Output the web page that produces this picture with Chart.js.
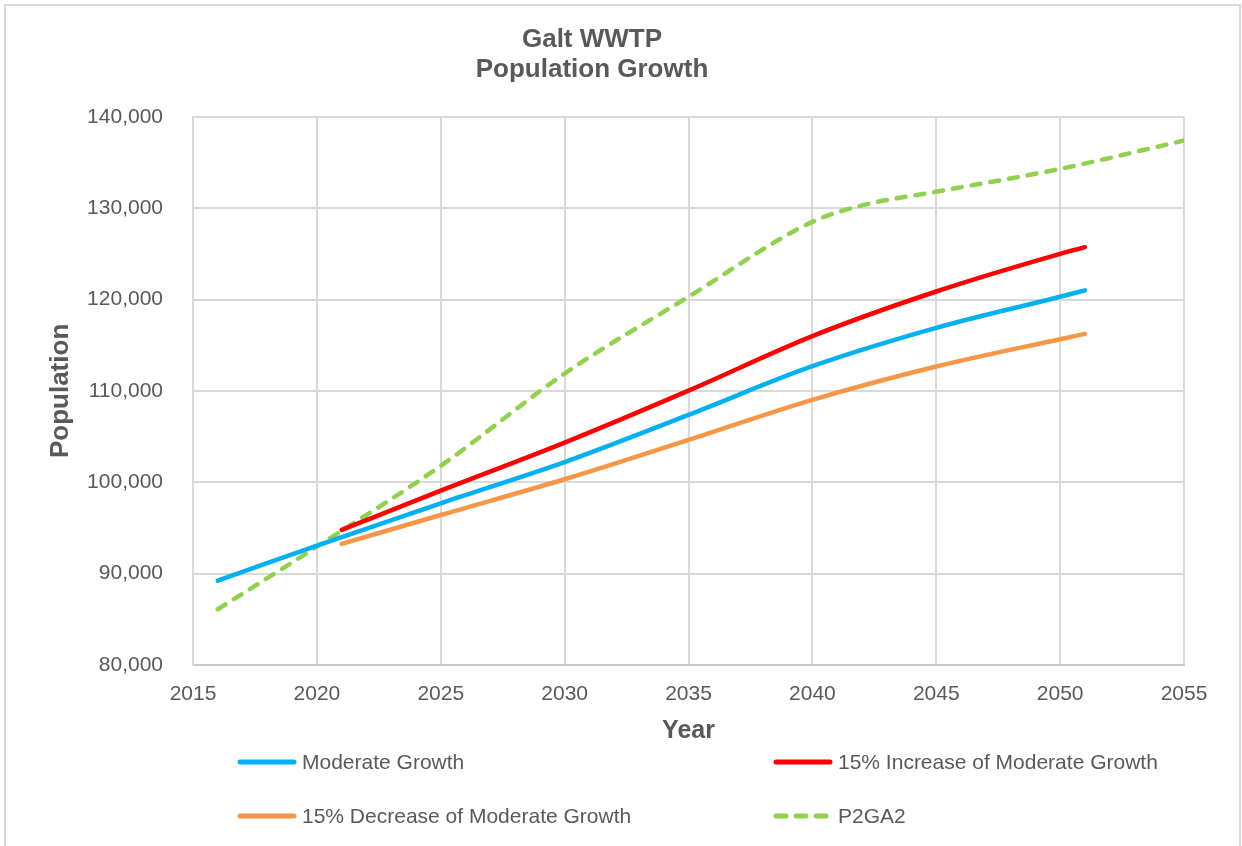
<!DOCTYPE html>
<html>

<head>
  <title>Galt WWTP Population Growth</title>
  <script src="https://cdn.jsdelivr.net/npm/chart.js@4/dist/chart.umd.min.js"></script>
  <style>
    body { margin: 0; background: #fff; font-family: "Liberation Sans", Arial, sans-serif; }
    #wrap { position: relative; width: 1242px; height: 846px; overflow: hidden; }
    #frame { position: absolute; left: 4px; top: 4px; width: 1233px; height: 900px; border: 2px solid #d9d9d9; pointer-events: none; }
    .item { position: absolute; display: flex; align-items: center; font-size: 21px; color: #595959; white-space: nowrap; }
    .item svg { margin-right: 5px; }
  </style>
</head>

<body>
  <div id="wrap">
    <canvas id="popChart" width="1242" height="846"></canvas>
    <div id="legend"></div>
    <div id="frame"></div>
  </div>

  <script>
    // values
    const yearsModerate = [2016, 2020, 2025, 2030, 2035, 2040, 2045, 2050, 2051];
    const moderateGrowth = [89230, 93060, 97700, 102200, 107370, 112700, 116900, 120300, 121000];

    const yearsScenario = [2021, 2025, 2030, 2035, 2040, 2045, 2050, 2051];
    const increase15 = [94780, 99080, 104340, 110030, 116000, 120880, 125000, 125730];
    const decrease15 = [93250, 96420, 100330, 104640, 109020, 112670, 115660, 116240];

    const yearsP2GA2 = [2016, 2020, 2025, 2030, 2035, 2040, 2042, 2045, 2050, 2055];
    const p2ga2 = [86100, 92950, 101800, 111900, 120300, 128500, 130300, 131800, 134300, 137400];

    const seriesNames = ['Moderate Growth', '15% Increase of Moderate Growth', '15% Decrease of Moderate Growth', 'P2GA2'];
    const seriesColors = ['#00b0f0', '#ff0000', '#f79646', '#92d050'];

    const textColor = '#595959';
    const gridColor = '#d9d9d9';
    const fontFamily = '"Liberation Sans", Arial, sans-serif';

    const toPoints = (xs, ys) => xs.map((x, i) => ({ x: x, y: ys[i] }));

    function lineSet(label, color, points, dashed) {
      return {
        label: label,
        data: points,
        borderColor: color,
        backgroundColor: color,
        borderWidth: 4.5,
        borderCapStyle: 'round',
        borderDash: dashed ? [9, 10] : [],
        pointRadius: 0,
        fill: false,
        cubicInterpolationMode: 'monotone',
      };
    }

    const ctx = document.getElementById('popChart').getContext('2d');
    const popChart = new Chart(ctx, {
      type: 'line',
      data: {
        datasets: [
          lineSet(seriesNames[0], seriesColors[0], toPoints(yearsModerate, moderateGrowth), false),
          lineSet(seriesNames[1], seriesColors[1], toPoints(yearsScenario, increase15), false),
          lineSet(seriesNames[2], seriesColors[2], toPoints(yearsScenario, decrease15), false),
          lineSet(seriesNames[3], seriesColors[3], toPoints(yearsP2GA2, p2ga2), true),
        ],
      },
      options: {
        responsive: false,
        animation: false,
        // bottom padding leaves room for the html legend
        layout: { padding: { left: 0, right: 58, top: 0, bottom: 100 } },
        plugins: {
          legend: { display: false },
          tooltip: { enabled: false },
          title: {
            display: true,
            text: ['Galt WWTP', 'Population Growth'],
            color: textColor,
            font: { family: fontFamily, size: 26, weight: 'bold', lineHeight: 1.15 },
            padding: { top: 25, bottom: 32 },
          },
        },
        scales: {
          x: {
            type: 'linear',
            min: 2015,
            max: 2055,
            afterFit: (scale) => { scale.height = 81; },
            ticks: {
              stepSize: 5,
              padding: 17,
              color: textColor,
              font: { family: fontFamily, size: 21 },
              callback: (v) => String(v),
            },
            grid: { color: gridColor, lineWidth: 2, drawTicks: false },
            border: { color: '#c9c9c9', width: 2 },
            title: {
              display: true,
              text: 'Year',
              color: textColor,
              font: { family: fontFamily, size: 25, weight: 'bold', lineHeight: 1.2 },
              padding: { top: 0, bottom: 0 },
            },
          },
          y: {
            min: 80000,
            max: 140000,
            afterFit: (scale) => { scale.width = 193; },
            ticks: {
              stepSize: 10000,
              padding: 30,
              color: textColor,
              font: { family: fontFamily, size: 21 },
              callback: (v) => v.toLocaleString('en-US'),
            },
            grid: { color: gridColor, lineWidth: 2, drawTicks: false },
            border: { color: gridColor, width: 2 },
            title: {
              display: true,
              text: 'Population',
              color: textColor,
              font: { family: fontFamily, size: 26, weight: 'bold', lineHeight: 1.2 },
              padding: { top: 45, bottom: 0 },
            },
          },
        },
      },
    });

    // two-column legend under the chart
    const legendSpots = [[237, 762], [773, 762], [237, 816], [773, 816]];
    const legend = document.getElementById('legend');
    seriesNames.forEach((name, i) => {
      const dashed = i === 3;
      const item = document.createElement('div');
      item.className = 'item';
      item.style.left = legendSpots[i][0] + 'px';
      item.style.top = (legendSpots[i][1] - 13) + 'px';
      item.style.height = '26px';
      item.innerHTML =
        '<svg width="60" height="8"><line x1="3" y1="4" x2="57" y2="4" stroke="' + seriesColors[i] +
        '" stroke-width="5" stroke-linecap="round"' + (dashed ? ' stroke-dasharray="10 10"' : '') + '/></svg>' +
        '<span>' + name + '</span>';
      legend.appendChild(item);
    });
  </script>
</body>

</html>
